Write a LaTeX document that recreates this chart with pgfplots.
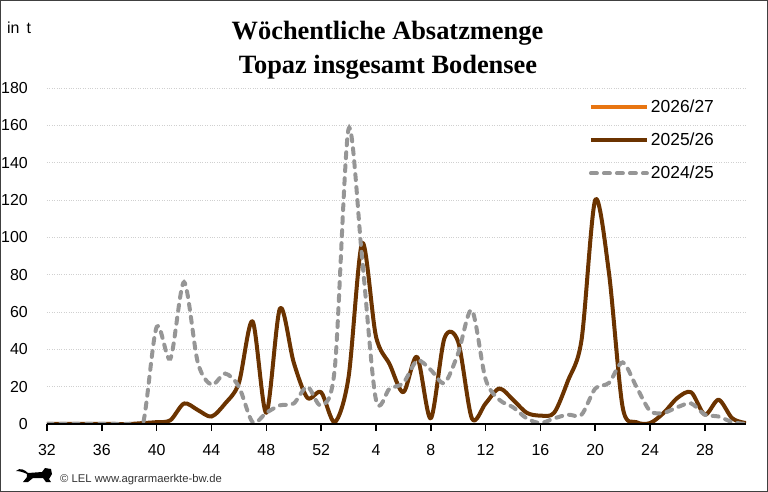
\documentclass[border=0pt]{standalone}
\usepackage{fontspec}
\setmainfont{Liberation Sans}
\newfontfamily\titlefont{Liberation Serif}
\usepackage{pgfplots}
\pgfplotsset{compat=1.18}
\usepackage{pgfplotstable}
\definecolor{brownS}{HTML}{6B3300}
\definecolor{orangeS}{HTML}{E87511}
\definecolor{grayS}{HTML}{969696}
\definecolor{gridc}{HTML}{D0D0D0}
\definecolor{framec}{HTML}{404040}
\definecolor{footc}{HTML}{333333}
% i = week index (0 = week 32, 20 = week 52, 21 = week 1, 51 = week 31)
\pgfplotstableread{
i b g
0 0 0
1 0 0
2 0 0
3 0 0
4 0 0
5 0 0
6 0 0
7 0.5 0
8 1 52
9 2 35
10 11 76
11 7.5 33
12 4 21
13 11 27
14 22 20
15 55 1
16 6 6
17 62 10
18 33 11
19 14 20
20 17 10
21 1 30
22 25 158
23 97 88
24 47 13
25 32 19
26 17 22
27 36 34
28 3 29
29 46 22
30 44 38
31 3 61
32 11 24
33 19 13
34 13 9
35 6 3
36 4.5 0.5
37 6 3
38 23 5
39 45 5
40 120 19
41 81 22
42 9 33
43 1 20
44 0.5 7
45 6 6
46 14 9
47 17 11
48 5 5
49 13 4
50 3 1
51 0.5 0
}\data
\begin{document}
\begin{tikzpicture}
\begin{axis}[
  scale only axis, width=699bp, height=336bp,
  xmin=0, xmax=51, ymin=0, ymax=180,
  clip mode=individual,
  xtick={0,4,...,48},
  xticklabels={32,36,40,44,48,52,4,8,12,16,20,24,28},
  ytick={0,20,...,180},
  ymajorgrids, grid style={dotted, line width=0.6bp, color=gridc},
  axis line style={draw=none},
  xtick pos=bottom, ytick pos=left,
  major tick length=0pt,
  tick style={draw=none},
  ticklabel style={font=\fontsize{16}{16}\selectfont, text=black},
  yticklabel style={inner sep=0pt, xshift=-19bp},
  xticklabel shift=20bp,
  xticklabel style={inner sep=0pt, anchor=north},
  /pgf/number format/assume math mode=true,
  legend style={at={(rel axis cs:0.775,0.971)}, anchor=north west, draw=none, fill=none,
    font=\fontsize{17.5}{20}\selectfont, row sep=15bp, inner sep=0pt,
    nodes={inner sep=2bp}},
  legend cell align=left,
  legend image code/.code={\draw[#1] (0bp,0bp) -- (56bp,0bp);},
]
\addlegendimage{orangeS, line width=4bp}
\addlegendentry{2026/27}
\addplot[brownS, line width=4bp, smooth, line join=round] table[x=i, y=b] {\data};
\addlegendentry{2025/26}
\addplot[grayS, line width=4bp, smooth, line cap=round, dash pattern=on 6bp off 7bp] table[x=i, y=g] {\data};
\addlegendentry{2024/25}
\draw[black, line width=2bp] (rel axis cs:0,0) -- (rel axis cs:1,0);
\pgfplotsinvokeforeach{0,4,...,48}{
  \draw[black, line width=1.5bp] (axis cs:#1,0) -- ++(0pt,-7bp);
}
\end{axis}
\node[anchor=base, inner sep=0pt, font=\titlefont\bfseries\fontsize{26.5}{30}\selectfont] at (340.5bp,384.7bp) {Wöchentliche Absatzmenge};
\node[anchor=base, inner sep=0pt, font=\titlefont\bfseries\fontsize{26.5}{30}\selectfont] at (341bp,350.7bp) {Topaz insgesamt Bodensee};
\node[anchor=base west, inner sep=0pt, font=\fontsize{16}{16}\selectfont] at (-40bp,390bp) {in\, t};
\node[anchor=base west, inner sep=0pt, font=\fontsize{11.3}{12}\selectfont, text=footc] at (13bp,-58.3bp) {© LEL www.agrarmaerkte-bw.de};
\fill[black] (-31bp,-47bp) .. controls (-27bp,-43bp) and (-22bp,-46bp) .. (-19bp,-49bp) -- (-5bp,-48bp) -- (-2bp,-44bp) -- (4bp,-45bp) -- (5bp,-50bp) -- (2bp,-55bp) -- (4bp,-58bp) -- (-1bp,-58bp) -- (-4bp,-54bp) -- (-14bp,-54bp) -- (-19bp,-58bp) -- (-24bp,-58bp) -- (-20bp,-53bp) -- (-20bp,-50bp) .. controls (-24bp,-48bp) and (-28bp,-47bp) .. cycle;
\draw[framec, line width=1.5bp] (-46.25bp,-67.25bp) rectangle (720.25bp,423.25bp);
\end{tikzpicture}
\end{document}
